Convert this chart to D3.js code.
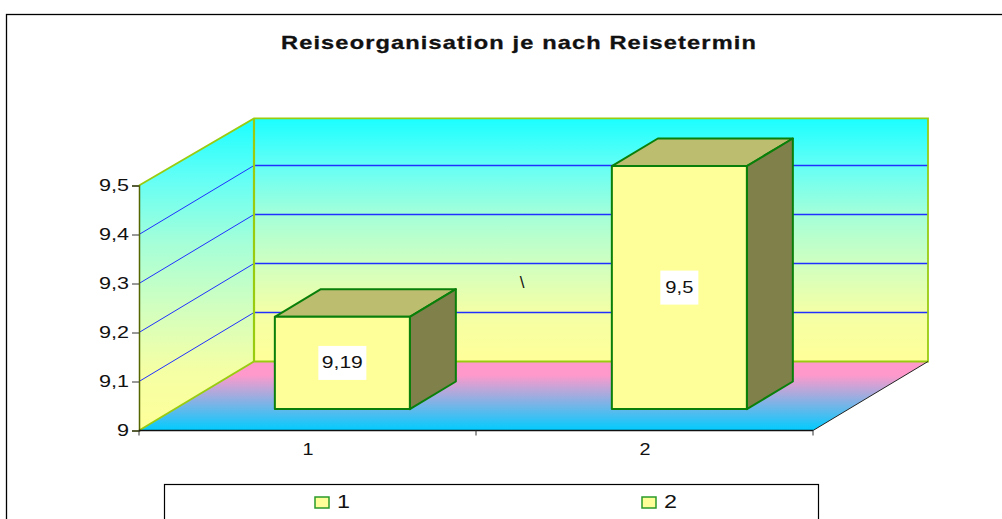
<!DOCTYPE html>
<html>
<head>
<meta charset="utf-8">
<script src="https://cdn.jsdelivr.net/npm/d3@7"></script>
<style>
  html,body{margin:0;padding:0;background:#fff;overflow:hidden}
  text{font-family:"Liberation Sans",Arial,sans-serif;fill:#111}
</style>
</head>
<body>
<script>
const chartTitle="Reiseorganisation je nach Reisetermin"
const categories=["1","2"]
const values=[9.19,9.5]
const yTicks=[9,9.1,9.2,9.3,9.4,9.5]
const legendLabels=["1","2"]
const strayMark="\\"

const width=1002
const height=519

const comma=d=>String(d).replace(".",",")

const x=d3.scaleBand().domain(categories).range([139,813])
const y=d3.scaleLinear().domain([9,9.5]).range([430.5,185.5])
const barH=d3.scaleLinear().domain([9,9.5]).range([0,243])
const zx=d3.scaleLinear().domain([0,1]).range([0,115])
const zy=d3.scaleLinear().domain([0,1]).range([0,-69])

// 3d projection: px along the x axis, v in data units, z is depth 0..1
const pt=(px,v,z)=>[px+zx(z),y(v)+zy(z)]
const poly=pts=>pts.map(p=>p.join(",")).join(" ")

const svg=d3.select("body").append("svg")
            .attr("width",width)
            .attr("height",height)
            .style("display","block")

const defs=svg.append("defs")

const wallGrad=defs.append("linearGradient").attr("id","wall")
                   .attr("x1",0).attr("y1",0).attr("x2",0).attr("y2",1)
wallGrad.selectAll("stop")
        .data([[0,"#1affff"],[0.2,"#66fff5"],[0.4,"#a5ffd8"],[0.6,"#d0ffc0"],[0.8,"#f4ffa5"],[1,"#ffff99"]])
        .enter().append("stop")
        .attr("offset",d=>d[0])
        .attr("stop-color",d=>d[1])

const floorGrad=defs.append("linearGradient").attr("id","floor")
                    .attr("x1",0).attr("y1",0).attr("x2",0).attr("y2",1)
floorGrad.selectAll("stop")
         .data([[0,"#ff99cc"],[0.2,"#ff99cc"],[1,"#00ccff"]])
         .enter().append("stop")
         .attr("offset",d=>d[0])
         .attr("stop-color",d=>d[1])

// outer frame, runs off the right and bottom of the picture
svg.append("rect")
   .attr("x",6.5).attr("y",14.5)
   .attr("width",1100).attr("height",600)
   .attr("fill","#fff").attr("stroke","#000").attr("stroke-width",1.3)

svg.append("text")
   .attr("x",281).attr("y",49)
   .attr("font-size",18.5).attr("font-weight","bold")
   .attr("letter-spacing",0.9)
   .attr("stroke","#111").attr("stroke-width",0.3)
   .attr("textLength",476).attr("lengthAdjust","spacingAndGlyphs")
   .text(chartTitle)

const [x0,x1]=x.range()
const [v0,v1]=y.domain()
const wallTop=9.496 // back wall stops a little short of the top tick

// walls and floor
svg.append("polygon")
   .attr("points",poly([pt(x0,v0,0),pt(x0,v1,0),pt(x0,wallTop,1),pt(x0,v0,1)]))
   .attr("fill","url(#wall)")
svg.append("polygon")
   .attr("points",poly([pt(x0,v0,1),pt(x0,wallTop,1),pt(x1,wallTop,1),pt(x1,v0,1)]))
   .attr("fill","url(#wall)")
svg.append("polygon")
   .attr("points",poly([pt(x0,v0,0),pt(x0,v0,1),pt(x1,v0,1),pt(x1,v0,0)]))
   .attr("fill","url(#floor)")

// gridlines
const grid=svg.append("g").attr("fill","none").attr("stroke","#2030ff")
grid.selectAll(".side")
    .data(yTicks.slice(1,-1))
    .enter().append("polyline")
    .attr("class","side")
    .attr("stroke-width",1)
    .attr("points",d=>poly([pt(x0,d,0),pt(x0,d,1)]))
grid.selectAll(".back")
    .data(yTicks.slice(1,-1))
    .enter().append("polyline")
    .attr("class","back")
    .attr("stroke-width",1.3)
    .attr("points",d=>poly([pt(x0,d,1),pt(x1,d,1)]))

// wall outlines
svg.append("polyline")
   .attr("fill","none").attr("stroke","#99cc11").attr("stroke-width",1.8)
   .attr("points",poly([pt(x0,v0,0),pt(x0,v0,1),pt(x1,v0,1),pt(x1,wallTop,1),pt(x0,wallTop,1),pt(x0,v1,0)]))
svg.append("line")
   .attr("x1",pt(x0,v0,1)[0]).attr("y1",pt(x0,v0,1)[1])
   .attr("x2",pt(x0,wallTop,1)[0]).attr("y2",pt(x0,wallTop,1)[1])
   .attr("stroke","#99cc11").attr("stroke-width",2.2)
svg.append("polyline")
   .attr("fill","none").attr("stroke","#222").attr("stroke-width",1)
   .attr("points",poly([pt(x1,v0,0),pt(x1,v0,1)]))

// bars
const zFront=0.31
const zBack=0.71
const barW=135

const barData=categories.map((c,i)=>({c,v:values[i]}))

const bars=svg.selectAll(".bar")
              .data(barData)
              .enter().append("g")
              .attr("class","bar")
              .attr("stroke","#0a7f0a")
              .attr("stroke-width",2)
              .attr("stroke-linejoin","round")

const left=d=>x(d.c)+x.bandwidth()/2-barW/2-0.8
const right=d=>left(d)+barW
// corner of a bar, h=0 at its foot, h=1 at its top
const corner=(px,d,h,z)=>{
  const p=pt(px,v0,z)
  return [p[0],p[1]-h*barH(d.v)]
}

bars.append("polygon")
    .attr("fill","#bdbd70")
    .attr("points",d=>poly([corner(left(d),d,1,zFront),corner(left(d),d,1,zBack),corner(right(d),d,1,zBack),corner(right(d),d,1,zFront)]))
bars.append("polygon")
    .attr("fill","#80804a")
    .attr("points",d=>poly([corner(right(d),d,0,zFront),corner(right(d),d,1,zFront),corner(right(d),d,1,zBack),corner(right(d),d,0,zBack)]))
bars.append("polygon")
    .attr("fill","#ffff99")
    .attr("points",d=>poly([corner(left(d),d,0,zFront),corner(left(d),d,1,zFront),corner(right(d),d,1,zFront),corner(right(d),d,0,zFront)]))

// value labels on white boxes
const labelBoxW={"9,19":48,"9,5":38}
const labelTextW={"9,19":41,"9,5":28}
const labelX=d=>(corner(left(d),d,0,zFront)[0]+corner(right(d),d,0,zFront)[0])/2
const labelY=d=>corner(left(d),d,0.5,zFront)[1]

const labels=svg.selectAll(".value")
                .data(barData)
                .enter().append("g")
                .attr("class","value")
labels.append("rect")
      .attr("x",d=>labelX(d)-labelBoxW[comma(d.v)]/2)
      .attr("y",d=>labelY(d)-17)
      .attr("width",d=>labelBoxW[comma(d.v)])
      .attr("height",34)
      .attr("fill","#fff")
labels.append("text")
      .attr("x",d=>labelX(d)-labelTextW[comma(d.v)]/2)
      .attr("y",d=>labelY(d)+5)
      .attr("font-size",17)
      .attr("textLength",d=>labelTextW[comma(d.v)])
      .attr("lengthAdjust","spacingAndGlyphs")
      .text(d=>comma(d.v))

svg.append("text")
   .attr("x",522).attr("y",288)
   .attr("text-anchor","middle")
   .attr("font-size",17)
   .text(strayMark)

// axes
const yAxis=svg.append("g")
   .attr("transform",`translate(${x0},0)`)
   .call(d3.axisLeft(y).tickValues(yTicks).tickFormat(comma).tickSize(7).tickPadding(3))
yAxis.select(".domain").attr("stroke","#556600").attr("stroke-width",1.5)
yAxis.selectAll("line").attr("stroke","#333")
yAxis.selectAll("text")
     .attr("font-family",null)
     .attr("font-size",17)
     .attr("textLength",d=>comma(d).length>1?30:12)
     .attr("lengthAdjust","spacingAndGlyphs")

svg.append("line")
   .attr("x1",x0).attr("x2",x1)
   .attr("y1",y(v0)).attr("y2",y(v0))
   .attr("stroke","#111").attr("stroke-width",1.3)

svg.selectAll(".xtick")
   .data([x0,x0+x.bandwidth(),x1])
   .enter().append("line")
   .attr("class","xtick")
   .attr("x1",d=>d).attr("x2",d=>d)
   .attr("y1",y(v0)).attr("y2",y(v0)+5)
   .attr("stroke","#333")

svg.selectAll(".xlabel")
   .data(categories)
   .enter().append("text")
   .attr("class","xlabel")
   .attr("x",d=>x(d)+x.bandwidth()/2-5)
   .attr("y",455)
   .attr("font-size",16)
   .attr("textLength",11)
   .attr("lengthAdjust","spacingAndGlyphs")
   .text(d=>d)

// legend, cut off by the bottom of the picture
svg.append("rect")
   .attr("x",164.5).attr("y",484.5)
   .attr("width",654).attr("height",80)
   .attr("fill","#fff").attr("stroke","#000").attr("stroke-width",1.2)

const legendX=d3.scalePoint().domain(legendLabels).range([322,649])

const legend=svg.selectAll(".legend")
                .data(legendLabels)
                .enter().append("g")
                .attr("class","legend")
                .attr("transform",d=>`translate(${legendX(d)},0)`)
legend.append("rect")
      .attr("x",-7).attr("y",497)
      .attr("width",14).attr("height",11)
      .attr("fill","#ffff99").attr("stroke","#2a9a2a").attr("stroke-width",1.5)
legend.append("text")
      .attr("x",15).attr("y",508)
      .attr("font-size",19)
      .attr("textLength",13)
      .attr("lengthAdjust","spacingAndGlyphs")
      .text(d=>d)
</script>
</body>
</html>
